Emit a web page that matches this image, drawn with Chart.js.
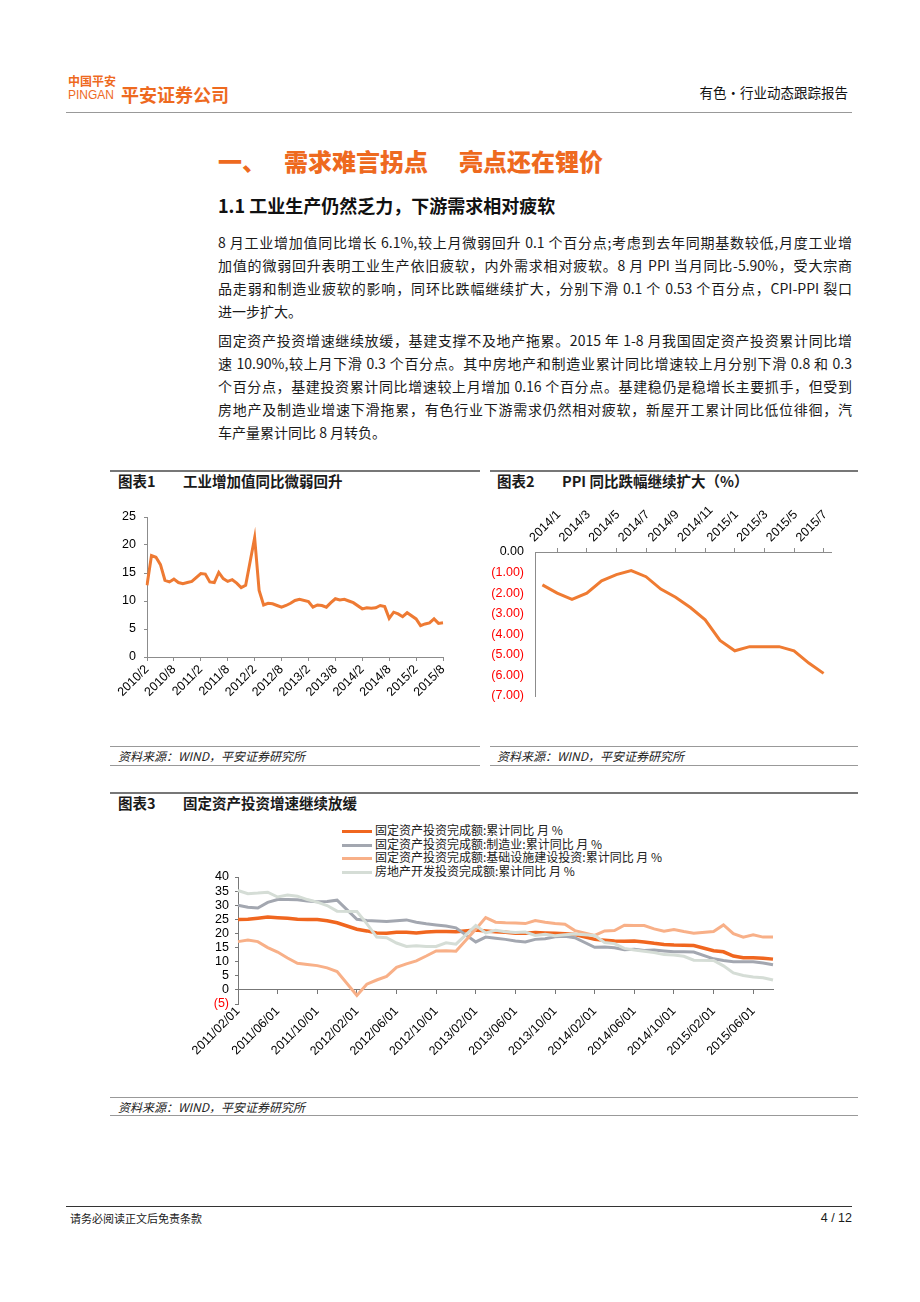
<!DOCTYPE html>
<html lang="zh-CN">
<head>
<meta charset="utf-8">
<title>有色·行业动态跟踪报告</title>
<script src="https://cdn.jsdelivr.net/npm/chart.js@4.4.1/dist/chart.umd.min.js"></script>
<style>
  html, body { margin: 0; padding: 0; background: #fff; }
  #page { position: relative; width: 920px; height: 1302px; overflow: hidden;
          font-family: "Noto Sans CJK SC", sans-serif; color: #1a1a1a; }
  .abs { position: absolute; white-space: nowrap; }
  .rule { position: absolute; height: 0; border-top: 1px solid #999; }
  .orange { color: #EE6A1F; }
  .body-line { position: absolute; left: 218px; width: 634px; height: 23px; line-height: 23px;
               font-size: 14px; text-align: justify; text-align-last: justify;
               font-family: "Liberation Sans Narrow", "Noto Sans CJK SC", sans-serif; }
  .body-line.last { text-align-last: left; }
  .fig-title { font-size: 14.5px; font-weight: bold; line-height: 18px; }
  .source { font-size: 12px; font-style: italic; line-height: 16px; color: #222; }
  canvas { position: absolute; }
  #legend3 { position: absolute; left: 342px; top: 823px; font-size: 12px; line-height: 13.5px; color: #222; }
  #legend3 .swatch { display: inline-block; width: 30px; height: 3px; margin-right: 3px; vertical-align: middle; }
</style>
</head>
<body>
<div id="page">
  <!-- 页眉 -->
  <div class="abs orange" style="left:68px; top:74px; font-size:12px; font-weight:bold; line-height:14px;">中国平安</div>
  <div class="abs orange" style="left:68px; top:88px; font-size:12px; line-height:14px; font-family:'Liberation Sans', Arial, sans-serif;">PINGAN</div>
  <div class="abs orange" style="left:121px; top:83px; font-size:18px; font-weight:bold; line-height:22px;">平安证券公司</div>
  <div class="abs" style="right:72px; top:83px; font-size:13.5px; line-height:18px; color:#111;">有色·行业动态跟踪报告</div>
  <div class="rule" style="left:66px; top:112px; width:786px;"></div>

  <!-- 标题 -->
  <div class="abs orange" style="left:218px; top:146px; font-size:24px; font-weight:900; line-height:30px;">一、</div>
  <div class="abs orange" style="left:284px; top:146px; font-size:24px; font-weight:900; line-height:30px;">需求难言拐点</div>
  <div class="abs orange" style="left:459px; top:146px; font-size:24px; font-weight:900; line-height:30px;">亮点还在锂价</div>
  <div class="abs" style="left:218px; top:194px; font-size:18px; font-weight:bold; line-height:22px; color:#111;">1.1 工业生产仍然乏力，下游需求相对疲软</div>

  <!-- 正文 -->
  <div class="body-line" style="top:231px;">8 月工业增加值同比增长 6.1%,较上月微弱回升 0.1 个百分点;考虑到去年同期基数较低,月度工业增</div>
  <div class="body-line" style="top:254px;">加值的微弱回升表明工业生产依旧疲软，内外需求相对疲软。8 月 PPI 当月同比-5.90%，受大宗商</div>
  <div class="body-line" style="top:277px;">品走弱和制造业疲软的影响，同环比跌幅继续扩大，分别下滑 0.1 个 0.53 个百分点，CPI-PPI 裂口</div>
  <div class="body-line last" style="top:300px;">进一步扩大。</div>
  <div class="body-line" style="top:329px;">固定资产投资增速继续放缓，基建支撑不及地产拖累。2015 年 1-8 月我国固定资产投资累计同比增</div>
  <div class="body-line" style="top:352px;">速 10.90%,较上月下滑 0.3 个百分点。其中房地产和制造业累计同比增速较上月分别下滑 0.8 和 0.3</div>
  <div class="body-line" style="top:375px;">个百分点，基建投资累计同比增速较上月增加 0.16 个百分点。基建稳仍是稳增长主要抓手，但受到</div>
  <div class="body-line" style="top:398px;">房地产及制造业增速下滑拖累，有色行业下游需求仍然相对疲软，新屋开工累计同比低位徘徊，汽</div>
  <div class="body-line last" style="top:421px;">车产量累计同比 8 月转负。</div>

  <!-- 图表1 / 图表2 标题 -->
  <div class="rule" style="left:110px; top:470px; width:370px; border-top:2px solid #777;"></div>
  <div class="abs fig-title" style="left:118px; top:472px;">图表1</div>
  <div class="abs fig-title" style="left:183px; top:472px;">工业增加值同比微弱回升</div>
  <div class="rule" style="left:490px; top:470px; width:368px; border-top:2px solid #777;"></div>
  <div class="abs fig-title" style="left:497px; top:472px;">图表2</div>
  <div class="abs fig-title" style="left:562px; top:472px;">PPI 同比跌幅继续扩大（%）</div>

  <canvas id="chart1" width="370" height="225" style="left:110px; top:495px;"></canvas>
  <canvas id="chart2" width="370" height="230" style="left:490px; top:490px;"></canvas>

  <div class="rule" style="left:110px; top:746px; width:370px;"></div>
  <div class="abs source" style="left:118px; top:748px;">资料来源：WIND，平安证券研究所</div>
  <div class="rule" style="left:110px; top:765px; width:370px;"></div>
  <div class="rule" style="left:490px; top:746px; width:368px;"></div>
  <div class="abs source" style="left:497px; top:748px;">资料来源：WIND，平安证券研究所</div>
  <div class="rule" style="left:490px; top:765px; width:368px;"></div>

  <!-- 图表3 -->
  <div class="rule" style="left:110px; top:792px; width:748px; border-top:2px solid #777;"></div>
  <div class="abs fig-title" style="left:118px; top:794px;">图表3</div>
  <div class="abs fig-title" style="left:183px; top:794px;">固定资产投资增速继续放缓</div>
  <div id="legend3"></div>
  <canvas id="chart3" width="750" height="280" style="left:110px; top:815px;"></canvas>
  <div class="rule" style="left:110px; top:1097px; width:748px;"></div>
  <div class="abs source" style="left:118px; top:1099px;">资料来源：WIND，平安证券研究所</div>
  <div class="rule" style="left:110px; top:1115px; width:748px;"></div>

  <!-- 页脚 -->
  <div class="rule" style="left:66px; top:1206px; width:786px; border-top-color:#333;"></div>
  <div class="abs" style="left:70px; top:1211px; font-size:11px; line-height:15px;">请务必阅读正文后免责条款</div>
  <div class="abs" style="right:68px; top:1210px; font-size:12.5px; line-height:16px; font-family:'Liberation Sans', Arial, sans-serif;">4 / 12</div>
</div>

<script>
// 图表1：工业增加值当月同比（%），1月无单独数据
const ivaLabels = [
  '2010/2','2010/3','2010/4','2010/5','2010/6','2010/7','2010/8','2010/9','2010/10','2010/11','2010/12',
  '2011/1','2011/2','2011/3','2011/4','2011/5','2011/6','2011/7','2011/8','2011/9','2011/10','2011/11','2011/12',
  '2012/1','2012/2','2012/3','2012/4','2012/5','2012/6','2012/7','2012/8','2012/9','2012/10','2012/11','2012/12',
  '2013/1','2013/2','2013/3','2013/4','2013/5','2013/6','2013/7','2013/8','2013/9','2013/10','2013/11','2013/12',
  '2014/1','2014/2','2014/3','2014/4','2014/5','2014/6','2014/7','2014/8','2014/9','2014/10','2014/11','2014/12',
  '2015/1','2015/2','2015/3','2015/4','2015/5','2015/6','2015/7','2015/8'
];
const ivaValues = [
  12.8, 18.1, 17.8, 16.5, 13.7, 13.4, 13.9, 13.3, 13.1, 13.3, 13.5,
  null, 14.9, 14.8, 13.4, 13.3, 15.1, 14.0, 13.5, 13.8, 13.2, 12.4, 12.8,
  null, 21.3, 11.9, 9.3, 9.6, 9.5, 9.2, 8.9, 9.2, 9.6, 10.1, 10.3,
  null, 9.9, 8.9, 9.3, 9.2, 8.9, 9.7, 10.4, 10.2, 10.3, 10.0, 9.7,
  null, 8.6, 8.8, 8.7, 8.8, 9.2, 9.0, 6.9, 8.0, 7.7, 7.2, 7.9,
  null, 6.8, 5.6, 5.9, 6.1, 6.8, 6.0, 6.1
];

// 图表2：PPI 当月同比（%）
const ppiLabels = [
  '2014/1','2014/2','2014/3','2014/4','2014/5','2014/6','2014/7','2014/8','2014/9','2014/10','2014/11','2014/12',
  '2015/1','2015/2','2015/3','2015/4','2015/5','2015/6','2015/7','2015/8'
];
const ppiValues = [-1.6, -2.0, -2.3, -2.0, -1.4, -1.1, -0.9, -1.2, -1.8, -2.2, -2.7, -3.3,
                   -4.3, -4.8, -4.6, -4.6, -4.6, -4.8, -5.4, -5.9];

// 图表3：固定资产投资累计同比（%）
const faiLabels = [
  '2011/02/01','2011/03/01','2011/04/01','2011/05/01','2011/06/01','2011/07/01','2011/08/01','2011/09/01','2011/10/01','2011/11/01','2011/12/01',
  '2012/01/01','2012/02/01','2012/03/01','2012/04/01','2012/05/01','2012/06/01','2012/07/01','2012/08/01','2012/09/01','2012/10/01','2012/11/01','2012/12/01',
  '2013/01/01','2013/02/01','2013/03/01','2013/04/01','2013/05/01','2013/06/01','2013/07/01','2013/08/01','2013/09/01','2013/10/01','2013/11/01','2013/12/01',
  '2014/01/01','2014/02/01','2014/03/01','2014/04/01','2014/05/01','2014/06/01','2014/07/01','2014/08/01','2014/09/01','2014/10/01','2014/11/01','2014/12/01',
  '2015/01/01','2015/02/01','2015/03/01','2015/04/01','2015/05/01','2015/06/01','2015/07/01','2015/08/01'
];
const faiTotal = [
  24.9, 25.0, 25.4, 25.8, 25.6, 25.4, 25.0, 24.9, 24.9, 24.5, 23.8,
  null, 21.5, 20.9, 20.2, 20.1, 20.4, 20.4, 20.2, 20.5, 20.7, 20.7, 20.6,
  null, 21.2, 20.9, 20.6, 20.4, 20.1, 20.1, 20.3, 20.2, 20.1, 19.9, 19.6,
  null, 17.9, 17.6, 17.3, 17.2, 17.3, 17.0, 16.5, 16.1, 15.9, 15.8, 15.7,
  null, 13.9, 13.5, 12.0, 11.4, 11.4, 11.2, 10.9
];
const faiManufacturing = [
  30.0, 29.3, 29.0, 31.0, 32.0, 32.0, 31.9, 31.5, 31.2, 31.3, 31.8,
  null, 25.0, 24.6, 24.4, 24.2, 24.5, 24.8, 24.0, 23.4, 23.0, 22.6, 22.0,
  null, 17.0, 18.7, 18.3, 17.9, 17.3, 17.0, 17.9, 18.1, 18.8, 19.0, 18.5,
  null, 15.1, 15.2, 14.9, 14.2, 14.4, 14.0, 14.1, 13.8, 13.5, 13.5, 13.4,
  null, 11.0, 10.4, 10.0, 10.0, 10.0, 9.5, 8.9
];
const faiInfra = [
  17.1, 17.7, 17.1, 15.0, 13.4, 11.3, 9.4, 9.0, 8.6, 7.8, 6.5,
  null, -2.0, 2.0, 3.5, 4.8, 8.0, 9.2, 10.3, 12.0, 13.8, 13.9, 13.7,
  null, 21.5, 25.6, 24.0, 23.8, 23.7, 23.5, 24.6, 24.0, 23.5, 23.3, 21.0,
  null, 19.3, 20.9, 21.0, 22.9, 22.8, 22.8, 21.6, 20.8, 21.4, 20.7, 20.1,
  null, 20.7, 23.0, 19.9, 18.7, 19.5, 18.7, 18.7
];
const faiRealEstate = [
  35.2, 34.1, 34.3, 34.6, 32.9, 33.6, 33.2, 32.0, 31.1, 29.9, 27.9,
  null, 27.8, 23.5, 18.7, 18.5, 16.6, 15.4, 15.6, 15.4, 15.4, 16.7, 16.2,
  null, 22.8, 20.2, 21.1, 20.6, 20.3, 20.5, 19.3, 19.7, 19.2, 19.5, 19.8,
  null, 19.3, 16.8, 16.4, 14.7, 14.1, 13.7, 13.2, 12.5, 12.4, 11.9, 10.5,
  null, 10.4, 8.5, 6.0, 5.1, 4.6, 4.3, 3.5
];
const faiNames = [
  '固定资产投资完成额:累计同比 月 %',
  '固定资产投资完成额:制造业:累计同比 月 %',
  '固定资产投资完成额:基础设施建设投资:累计同比 月 %',
  '房地产开发投资完成额:累计同比 月 %'
];
const faiColors = ['#F0661F', '#A3A7B0', '#F8B088', '#D5DDD6'];

Chart.defaults.font.family = '"Liberation Sans", Arial, sans-serif';
Chart.defaults.font.size = 12;
Chart.defaults.color = '#000';

const axisGray = '#8c8c8c';

// 图表1
new Chart(document.getElementById('chart1'), {
    type: 'line',
    data: {
        labels: ivaLabels,
        datasets: [{
            data: ivaValues,
            borderColor: '#EE7A33',
            borderWidth: 3,
            pointRadius: 0,
            spanGaps: true,
            tension: 0
        }]
    },
    options: {
        responsive: false,
        animation: false,
        devicePixelRatio: 1,
        layout: { padding: { top: 22, right: 37, left: 0, bottom: 0 } },
        plugins: { legend: { display: false }, tooltip: { enabled: false } },
        scales: {
            x: {
                grid: { drawOnChartArea: false, tickLength: 4, color: axisGray },
                border: { color: axisGray },
                ticks: {
                    autoSkip: false, minRotation: 45, maxRotation: 45, padding: 1,
                    font: { size: 12.5 },
                    callback: function (v, i) { return i % 6 === 0 ? this.getLabelForValue(v) : null; }
                },
                afterFit: function (s) { s.height = 63; }
            },
            y: {
                min: 0, max: 25,
                ticks: { stepSize: 5, padding: 8, autoSkip: false, font: { size: 12.5 } },
                grid: { drawOnChartArea: false, tickLength: 3, color: axisGray },
                border: { color: axisGray },
                afterFit: function (s) { s.width = 37; }
            }
        }
    }
});

// 图表2
new Chart(document.getElementById('chart2'), {
    type: 'line',
    data: {
        labels: ppiLabels,
        datasets: [{
            data: ppiValues,
            borderColor: '#EF7B32',
            borderWidth: 3,
            pointRadius: 0,
            tension: 0
        }]
    },
    options: {
        responsive: false,
        animation: false,
        devicePixelRatio: 1,
        layout: { padding: { top: 0, right: 29, left: 0, bottom: 24 } },
        plugins: { legend: { display: false }, tooltip: { enabled: false } },
        scales: {
            x: {
                position: 'top',
                offset: true,
                grid: { offset: true, drawOnChartArea: false, tickLength: 4, color: axisGray },
                border: { color: axisGray },
                ticks: {
                    autoSkip: false, minRotation: 45, maxRotation: 45, padding: 3,
                    font: { size: 12.5 },
                    callback: function (v, i) { return i % 2 === 0 ? this.getLabelForValue(v) : null; }
                },
                afterFit: function (s) { s.height = 62; }
            },
            y: {
                min: -7, max: 0,
                ticks: {
                    stepSize: 1, padding: 11, autoSkip: false,
                    font: { size: 12.5 },
                    color: function (c) { return c.tick && c.tick.value < 0 ? '#FF0000' : '#000'; },
                    callback: function (v) { return v === 0 ? '0.00' : '(' + Math.abs(v).toFixed(2) + ')'; }
                },
                grid: { display: true, drawOnChartArea: false, drawTicks: false, color: axisGray },
                border: { color: axisGray },
                afterFit: function (s) { s.width = 45; }
            }
        }
    }
});

// 图表3：横轴画在 0 的位置，标签落在 (5) 之下
const faiSeries = [faiTotal, faiManufacturing, faiInfra, faiRealEstate];
new Chart(document.getElementById('chart3'), {
    type: 'line',
    data: {
        labels: faiLabels,
        datasets: faiSeries.map((values, i) => ({
            label: faiNames[i],
            data: values,
            borderColor: faiColors[i],
            borderWidth: i === 0 ? 3.5 : 3,
            pointRadius: 0,
            spanGaps: true,
            tension: 0,
            order: 4 - i
        }))
    },
    options: {
        responsive: false,
        animation: false,
        devicePixelRatio: 1,
        layout: { padding: { top: 62, right: 87, left: 88, bottom: 91 } },
        plugins: { legend: { display: false }, tooltip: { enabled: false } },
        scales: {
            x: {
                position: { y: 0 },
                grid: { drawOnChartArea: false, tickLength: 4, color: '#777' },
                border: { color: '#777' },
                ticks: {
                    autoSkip: false, minRotation: 45, maxRotation: 45, padding: 10,
                    font: { size: 12.5 },
                    callback: function (v, i) { return i % 4 === 0 ? this.getLabelForValue(v) : null; }
                }
            },
            y: {
                min: -5, max: 40,
                ticks: {
                    stepSize: 5, padding: 6, autoSkip: false,
                    font: { size: 12.5 },
                    color: function (c) { return c.tick && c.tick.value < 0 ? '#FF0000' : '#000'; },
                    callback: function (v) { return v < 0 ? '(' + Math.abs(v) + ')' : v; }
                },
                grid: {
                    drawOnChartArea: true, tickLength: 3, tickColor: '#777',
                    color: function (c) { return c.tick && c.tick.value === 0 ? '#777' : 'rgba(0,0,0,0)'; }
                },
                border: { color: '#777' },
                afterFit: function (s) { s.width = 40; }
            }
        }
    }
});

// 图表3 图例
const legendBox = document.getElementById('legend3');
faiNames.forEach((name, i) => {
    const row = document.createElement('div');
    row.innerHTML = `<span class="swatch" style="background:${faiColors[i]}"></span>${name}`;
    legendBox.appendChild(row);
});
</script>
</body>
</html>
